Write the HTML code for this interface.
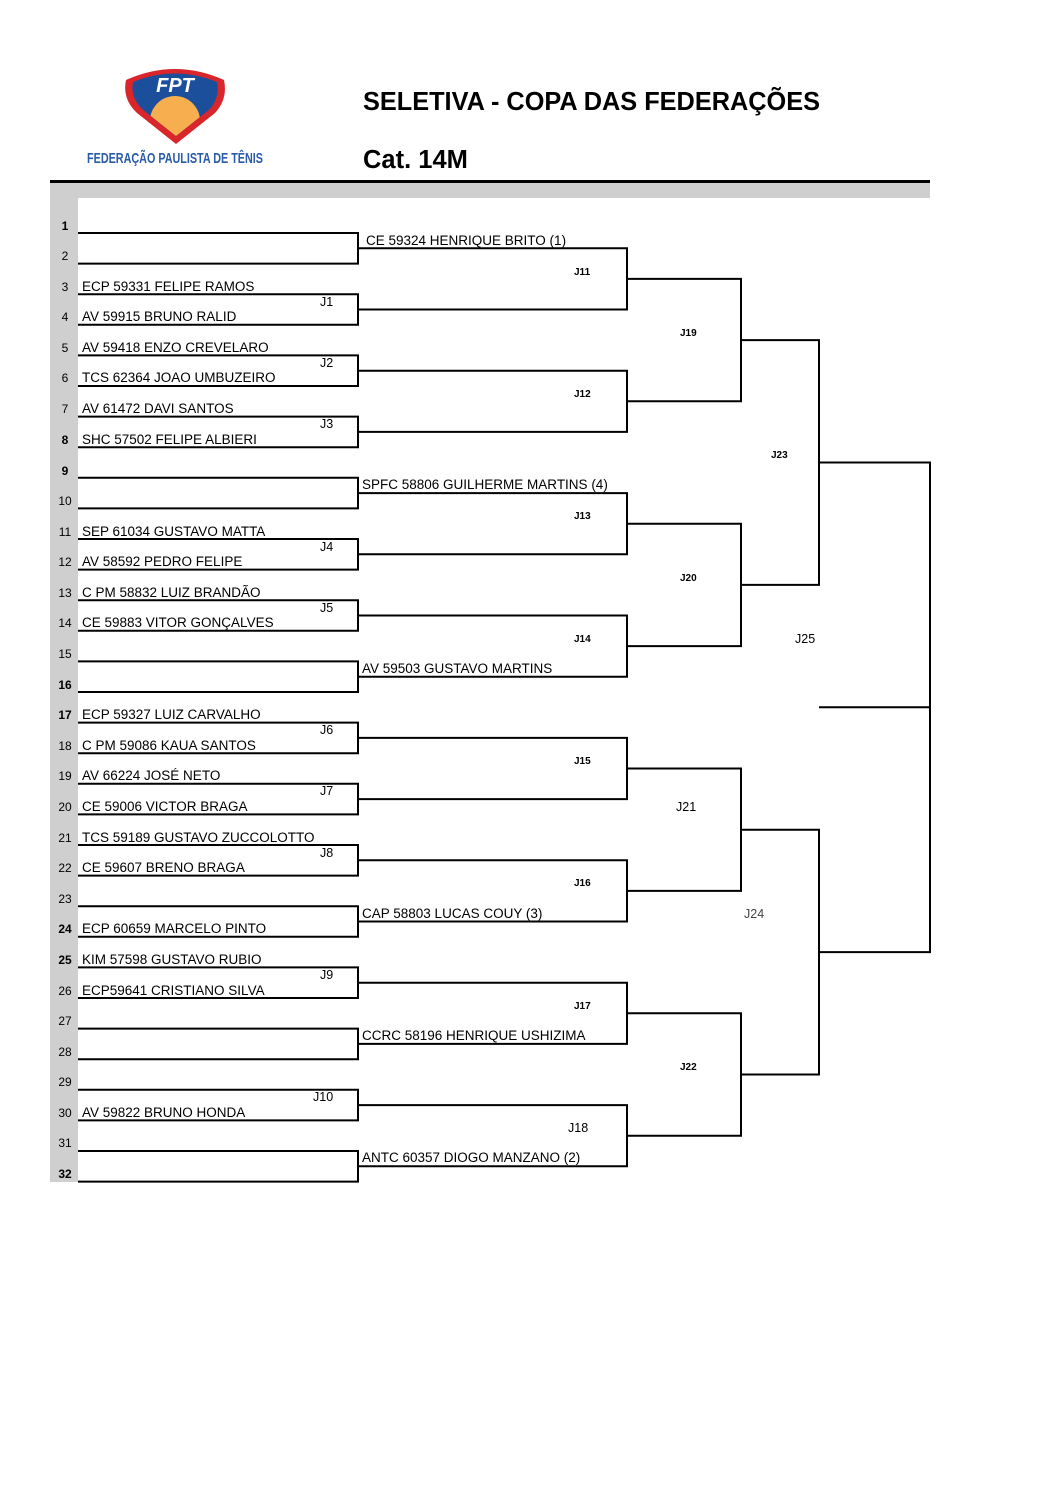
<!DOCTYPE html>
<html><head><meta charset="utf-8"><style>
html,body{margin:0;padding:0;background:#fff;}
svg{display:block;font-family:"Liberation Sans",Arial,sans-serif;}
.n{font-size:13.5px;fill:#000;}
.r{font-size:12px;fill:#000;text-anchor:middle;}
.b{font-weight:bold;}
.j{font-size:12.5px;fill:#000;}
.js{font-size:10px;fill:#000;font-weight:bold;}
</style></head><body>
<svg width="1058" height="1497" viewBox="0 0 1058 1497" xmlns="http://www.w3.org/2000/svg">
<defs><clipPath id="sh"><path d="M133 82 Q175 65 217 82 Q220 97 210 109 L176 136 L142 109 Q130 97 133 82Z"/></clipPath></defs>
<!-- logo -->
<path d="M126 80 Q175 58 224 80 Q228 99 215 113 L176 144 L137 113 Q122 99 126 80Z" fill="#d8262b"/>
<path d="M133 82 Q175 65 217 82 Q220 97 210 109 L176 136 L142 109 Q130 97 133 82Z" fill="#1b4f9c"/>
<g clip-path="url(#sh)"><circle cx="175" cy="121" r="25" fill="#f6ae4f"/></g>
<text x="175" y="92" font-size="20" font-weight="bold" fill="#fff" text-anchor="middle" font-style="italic">FPT</text>
<text x="0" y="163" font-size="15" font-weight="bold" fill="#2a5ba8" text-anchor="middle" transform="translate(175 0) scale(0.72 1)">FEDERAÇÃO PAULISTA DE TÊNIS</text>
<text x="363" y="110" font-size="25.5" font-weight="bold" textLength="457" lengthAdjust="spacingAndGlyphs">SELETIVA - COPA DAS FEDERAÇÕES</text>
<text x="363" y="168" font-size="25.5" font-weight="bold">Cat. 14M</text>
<!-- bands -->
<rect x="50" y="180" width="880" height="3" fill="#000"/>
<rect x="50" y="183" width="880" height="15" fill="#cfcfcf"/>
<rect x="50" y="183" width="28" height="999" fill="#cfcfcf"/>
<!-- row numbers -->
<g class="r">
<text x="65" y="230" class="b">1</text><text x="65" y="260">2</text><text x="65" y="291">3</text><text x="65" y="321">4</text>
<text x="65" y="352">5</text><text x="65" y="382">6</text><text x="65" y="413">7</text><text x="65" y="444" class="b">8</text>
<text x="65" y="475" class="b">9</text><text x="65" y="505">10</text><text x="65" y="536">11</text><text x="65" y="566">12</text>
<text x="65" y="597">13</text><text x="65" y="627">14</text><text x="65" y="658">15</text><text x="65" y="689" class="b">16</text>
<text x="65" y="719" class="b">17</text><text x="65" y="750">18</text><text x="65" y="780">19</text><text x="65" y="811">20</text>
<text x="65" y="842">21</text><text x="65" y="872">22</text><text x="65" y="903">23</text><text x="65" y="933" class="b">24</text>
<text x="65" y="964" class="b">25</text><text x="65" y="995">26</text><text x="65" y="1025">27</text><text x="65" y="1056">28</text>
<text x="65" y="1086">29</text><text x="65" y="1117">30</text><text x="65" y="1147">31</text><text x="65" y="1178" class="b">32</text>
</g>
<!-- bracket lines -->
<g fill="none" stroke="#000" stroke-width="2">
<path d="M78 233H358V263.6H78"/><path d="M78 294.2H358V324.8H78"/><path d="M78 355.4H358V386H78"/><path d="M78 416.6H358V447.2H78"/>
<path d="M78 477.8H358V508.4H78"/><path d="M78 539H358V569.6H78"/><path d="M78 600.2H358V630.8H78"/><path d="M78 661.4H358V692H78"/>
<path d="M78 722.6H358V753.2H78"/><path d="M78 783.8H358V814.4H78"/><path d="M78 845H358V875.6H78"/><path d="M78 906.2H358V936.8H78"/>
<path d="M78 967.4H358V998H78"/><path d="M78 1028.6H358V1059.2H78"/><path d="M78 1089.8H358V1120.4H78"/><path d="M78 1151H358V1181.6H78"/>
<path d="M358 248.3H627V309.5H358"/><path d="M358 370.7H627V431.9H358"/><path d="M358 493.1H627V554.3H358"/><path d="M358 615.5H627V676.7H358"/>
<path d="M358 737.9H627V799.1H358"/><path d="M358 860.3H627V921.5H358"/><path d="M358 982.7H627V1043.9H358"/><path d="M358 1105.1H627V1166.3H358"/>
<path d="M627 278.9H741V401.3H627"/><path d="M627 523.7H741V646.1H627"/><path d="M627 768.5H741V890.9H627"/><path d="M627 1013.3H741V1135.7H627"/>
<path d="M741 340.1H819V584.9H741"/><path d="M741 829.7H819V1074.5H741"/>
<path d="M819 462.5H930V952.1H819"/><path d="M819 707.3H930"/>
</g>
<!-- round 1 names -->
<g class="n">
<text x="82" y="291">ECP 59331 FELIPE RAMOS</text><text x="82" y="321">AV 59915 BRUNO RALID</text>
<text x="82" y="352">AV 59418 ENZO CREVELARO</text><text x="82" y="382">TCS 62364 JOAO UMBUZEIRO</text>
<text x="82" y="413">AV 61472 DAVI SANTOS</text><text x="82" y="444">SHC 57502 FELIPE ALBIERI</text>
<text x="82" y="536">SEP 61034 GUSTAVO MATTA</text><text x="82" y="566">AV 58592 PEDRO FELIPE</text>
<text x="82" y="597">C PM 58832 LUIZ BRANDÃO</text><text x="82" y="627">CE 59883 VITOR GONÇALVES</text>
<text x="82" y="719">ECP 59327 LUIZ CARVALHO</text><text x="82" y="750">C PM 59086 KAUA SANTOS</text>
<text x="82" y="780">AV 66224 JOSÉ NETO</text><text x="82" y="811">CE 59006 VICTOR BRAGA</text>
<text x="82" y="842">TCS 59189 GUSTAVO ZUCCOLOTTO</text><text x="82" y="872">CE 59607 BRENO BRAGA</text>
<text x="82" y="933">ECP 60659 MARCELO PINTO</text>
<text x="82" y="964">KIM 57598 GUSTAVO RUBIO</text><text x="82" y="995">ECP59641 CRISTIANO SILVA</text>
<text x="82" y="1117">AV 59822 BRUNO HONDA</text>
<text x="366" y="245">CE 59324 HENRIQUE BRITO (1)</text>
<text x="362" y="489">SPFC 58806 GUILHERME MARTINS  (4)</text>
<text x="362" y="673">AV 59503 GUSTAVO MARTINS</text>
<text x="362" y="918">CAP 58803 LUCAS COUY (3)</text>
<text x="362" y="1040">CCRC 58196 HENRIQUE USHIZIMA</text>
<text x="362" y="1162">ANTC 60357 DIOGO MANZANO (2)</text>
</g>
<!-- match labels -->
<g class="j">
<text x="320" y="306">J1</text><text x="320" y="367">J2</text><text x="320" y="428">J3</text><text x="320" y="551">J4</text>
<text x="320" y="612">J5</text><text x="320" y="734">J6</text><text x="320" y="795">J7</text><text x="320" y="857">J8</text>
<text x="320" y="979">J9</text><text x="313" y="1101">J10</text>
<text x="568" y="1132">J18</text><text x="676" y="811">J21</text><text x="795" y="643">J25</text>
<text x="744" y="918" fill="#444">J24</text>
</g>
<g class="js">
<text x="574" y="275">J11</text><text x="574" y="397">J12</text><text x="574" y="519">J13</text><text x="574" y="642">J14</text>
<text x="574" y="764">J15</text><text x="574" y="886">J16</text><text x="574" y="1009">J17</text>
<text x="680" y="336">J19</text><text x="680" y="581">J20</text><text x="680" y="1070">J22</text><text x="771" y="458">J23</text>
</g>
</svg>
</body></html>
